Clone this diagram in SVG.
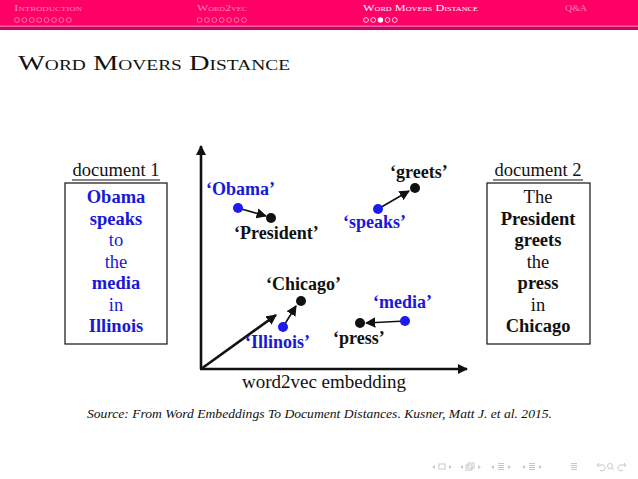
<svg xmlns="http://www.w3.org/2000/svg" width="638" height="479" viewBox="0 0 638 479">
  <style>
    .hdr { font-family: "Liberation Serif", "Times New Roman", serif; font-size: 9px; font-variant: small-caps; fill: #ff8ab8; }
    .hdr.on { fill: #ffffff; }
    .dot { fill: none; stroke: #ff8ab8; stroke-width: 0.8; }
    .dot.on { stroke: #ffffff; }
    .title { font-family: "Liberation Serif", "Times New Roman", serif; font-size: 22px; font-variant: small-caps; fill: #111; }
    .doc { font-family: "Liberation Serif", "Times New Roman", serif; font-size: 18.5px; text-anchor: middle; }
    .b { font-weight: bold; }
    .blue { fill: #1818d8; }
    .blk { fill: #111; }
    .lbl { font-family: "Liberation Serif", "Times New Roman", serif; font-size: 18px; font-weight: bold; }
    .serif { font-family: "Liberation Serif", "Times New Roman", serif; }
    .box { fill: #fff; stroke: #111; stroke-width: 1.2; }
    .axis { stroke: #111; stroke-width: 2.6; fill: none; }
    .link { stroke: #111; stroke-width: 1.6; fill: none; }
    .nav { fill: none; stroke: #c8c8c8; stroke-width: 1; }
    .navf { fill: #c8c8c8; }
  </style>
  <defs>
    <marker id="ahead" viewBox="0 0 10 10" refX="9" refY="5" markerWidth="4" markerHeight="4" orient="auto" markerUnits="strokeWidth">
      <path d="M0,0 L10,5 L0,10 z" fill="#111"/>
    </marker>
    <marker id="shead" viewBox="0 0 10 10" refX="9" refY="5" markerWidth="6.5" markerHeight="6.5" orient="auto" markerUnits="strokeWidth">
      <path d="M0,0 L10,5 L0,10 z" fill="#111"/>
    </marker>
  </defs>

  <!-- header bar -->
  <rect x="0" y="0" width="638" height="26" fill="#ff0066"/>
  <rect x="0" y="25.5" width="638" height="1.2" fill="#ff5c9c"/>
  <rect x="0" y="26.7" width="638" height="3.3" fill="#c8006e"/>

  <g id="nav-sections">
    <text class="hdr" x="14" y="11" textLength="68" lengthAdjust="spacingAndGlyphs">Introduction</text>
    <text class="hdr" x="197" y="11" textLength="50" lengthAdjust="spacingAndGlyphs">Word2vec</text>
    <text class="hdr on" x="363" y="11" textLength="115" lengthAdjust="spacingAndGlyphs">Word Movers Distance</text>
    <text class="hdr" x="565" y="11" textLength="22" lengthAdjust="spacingAndGlyphs">Q&amp;A</text>
    <g>
      <circle class="dot" cx="17" cy="20" r="2.4"/><circle class="dot" cx="24.4" cy="20" r="2.4"/>
      <circle class="dot" cx="31.8" cy="20" r="2.4"/><circle class="dot" cx="39.2" cy="20" r="2.4"/>
      <circle class="dot" cx="46.6" cy="20" r="2.4"/><circle class="dot" cx="54" cy="20" r="2.4"/>
      <circle class="dot" cx="61.4" cy="20" r="2.4"/><circle class="dot" cx="68.8" cy="20" r="2.4"/>
    </g>
    <g>
      <circle class="dot" cx="199.5" cy="20" r="2.4"/><circle class="dot" cx="206.9" cy="20" r="2.4"/>
      <circle class="dot" cx="214.3" cy="20" r="2.4"/><circle class="dot" cx="221.7" cy="20" r="2.4"/>
      <circle class="dot" cx="229.1" cy="20" r="2.4"/><circle class="dot" cx="236.5" cy="20" r="2.4"/>
      <circle class="dot" cx="243.9" cy="20" r="2.4"/>
    </g>
    <g>
      <circle class="dot on" cx="366" cy="20" r="2.4"/><circle class="dot on" cx="373.2" cy="20" r="2.4"/>
      <circle cx="380.4" cy="20" r="2.7" fill="#ffffff"/>
      <circle class="dot on" cx="387.6" cy="20" r="2.4"/><circle class="dot on" cx="394.8" cy="20" r="2.4"/>
    </g>
  </g>

  <!-- slide title -->
  <text class="title" x="18" y="70" textLength="272" lengthAdjust="spacingAndGlyphs">Word Movers Distance</text>

  <!-- document 1 -->
  <g id="doc1">
    <text class="doc blk" x="116" y="176">document 1</text>
    <line x1="72" y1="180" x2="160" y2="180" stroke="#111" stroke-width="1"/>
    <rect class="box" x="65" y="183" width="102" height="161"/>
    <text class="doc blue b" x="116" y="203">Obama</text>
    <text class="doc blue b" x="116" y="225">speaks</text>
    <text class="doc blue" x="116" y="246">to</text>
    <text class="doc blue" x="116" y="268">the</text>
    <text class="doc blue b" x="116" y="289">media</text>
    <text class="doc blue" x="116" y="311">in</text>
    <text class="doc blue b" x="116" y="332">Illinois</text>
  </g>

  <!-- document 2 -->
  <g id="doc2">
    <text class="doc blk" x="538" y="176">document 2</text>
    <line x1="493" y1="180" x2="583" y2="180" stroke="#111" stroke-width="1"/>
    <rect class="box" x="487" y="183" width="103" height="161"/>
    <text class="doc blk" x="538" y="203">The</text>
    <text class="doc blk b" x="538" y="225">President</text>
    <text class="doc blk b" x="538" y="246">greets</text>
    <text class="doc blk" x="538" y="268">the</text>
    <text class="doc blk b" x="538" y="289">press</text>
    <text class="doc blk" x="538" y="311">in</text>
    <text class="doc blk b" x="538" y="332">Chicago</text>
  </g>

  <!-- embedding space axes and links -->
  <g id="connectors">
    <line class="axis" x1="201" y1="369" x2="201" y2="146" marker-end="url(#ahead)"/>
    <line class="axis" x1="200" y1="369" x2="467" y2="369" marker-end="url(#ahead)"/>
    <line class="axis" x1="201" y1="369" x2="276" y2="315" marker-end="url(#ahead)"/>
    <line class="link" x1="238" y1="208" x2="266" y2="216" marker-end="url(#shead)"/>
    <line class="link" x1="378" y1="209" x2="409" y2="191" marker-end="url(#shead)"/>
    <line class="link" x1="283" y1="327" x2="296" y2="306" marker-end="url(#shead)"/>
    <line class="link" x1="405" y1="321" x2="366" y2="323" marker-end="url(#shead)"/>
  </g>

  <text id="axis-label" class="serif" x="324" y="388" font-size="19" text-anchor="middle" fill="#111">word2vec embedding</text>

  <g id="w-obama">
    <circle cx="238" cy="208" r="5" fill="#1c1cf0"/>
    <text class="lbl blue" x="206" y="195">‘Obama’</text>
  </g>
  <g id="w-president">
    <circle cx="271" cy="218" r="5" fill="#111"/>
    <text class="lbl blk" x="234" y="239">‘President’</text>
  </g>
  <g id="w-speaks">
    <circle cx="378" cy="209" r="5" fill="#1c1cf0"/>
    <text class="lbl blue" x="343" y="228">‘speaks’</text>
  </g>
  <g id="w-greets">
    <circle cx="415" cy="188" r="5" fill="#111"/>
    <text class="lbl blk" x="390" y="178">‘greets’</text>
  </g>
  <g id="w-chicago">
    <circle cx="301" cy="301" r="5" fill="#111"/>
    <text class="lbl blk" x="266" y="290">‘Chicago’</text>
  </g>
  <g id="w-illinois">
    <circle cx="283" cy="327" r="5" fill="#1c1cf0"/>
    <text class="lbl blue" x="245" y="348">‘Illinois’</text>
  </g>
  <g id="w-media">
    <circle cx="405" cy="321" r="5" fill="#1c1cf0"/>
    <text class="lbl blue" x="373" y="308">‘media’</text>
  </g>
  <g id="w-press">
    <circle cx="360" cy="323" r="5" fill="#111"/>
    <text class="lbl blk" x="333" y="344">‘press’</text>
  </g>

  <!-- citation -->
  <text class="serif" x="87" y="418" font-size="13" font-style="italic" fill="#111" textLength="465" lengthAdjust="spacingAndGlyphs">Source: From Word Embeddings To Document Distances. Kusner, Matt J. et al. 2015.</text>

  <!-- navigation symbols -->
  <g id="nav-symbols">
    <path class="navf" d="M432,467 l3,-2 v4 z"/>
    <rect class="nav" x="439" y="464" width="6" height="5"/>
    <path class="navf" d="M452,467 l-3,-2 v4 z"/>
    <path class="navf" d="M460,467 l3,-2 v4 z"/>
    <rect class="nav" x="466" y="465" width="6" height="5"/>
    <rect class="nav" x="468" y="463" width="6" height="5"/>
    <path class="navf" d="M481,467 l-3,-2 v4 z"/>
    <path class="navf" d="M491,467 l3,-2 v4 z"/>
    <path class="nav" d="M498,463.5 h6 M498,465.5 h6 M498,467.5 h6 M498,469.5 h6"/>
    <path class="navf" d="M511,467 l-3,-2 v4 z"/>
    <path class="navf" d="M522,467 l3,-2 v4 z"/>
    <path class="nav" d="M529,463.5 h6 M529,465.5 h6 M529,467.5 h6 M529,469.5 h6"/>
    <path class="navf" d="M542,467 l-3,-2 v4 z"/>
    <path class="nav" d="M571,463.5 h6 M571,465.5 h6 M571,467.5 h6 M571,469.5 h6"/>
    <path class="nav" d="M597,465 l2,-2 M597,465 l2,2 M597,465 h4 a3,3 0 1 1 -1,5"/>
    <circle class="nav" cx="610" cy="466" r="2.5"/>
    <path class="nav" d="M612,468 l2,2"/>
    <path class="nav" d="M626,465 l-2,-2 M626,465 l-2,2 M626,465 h-4 a3,3 0 1 0 1,5"/>
  </g>
</svg>
